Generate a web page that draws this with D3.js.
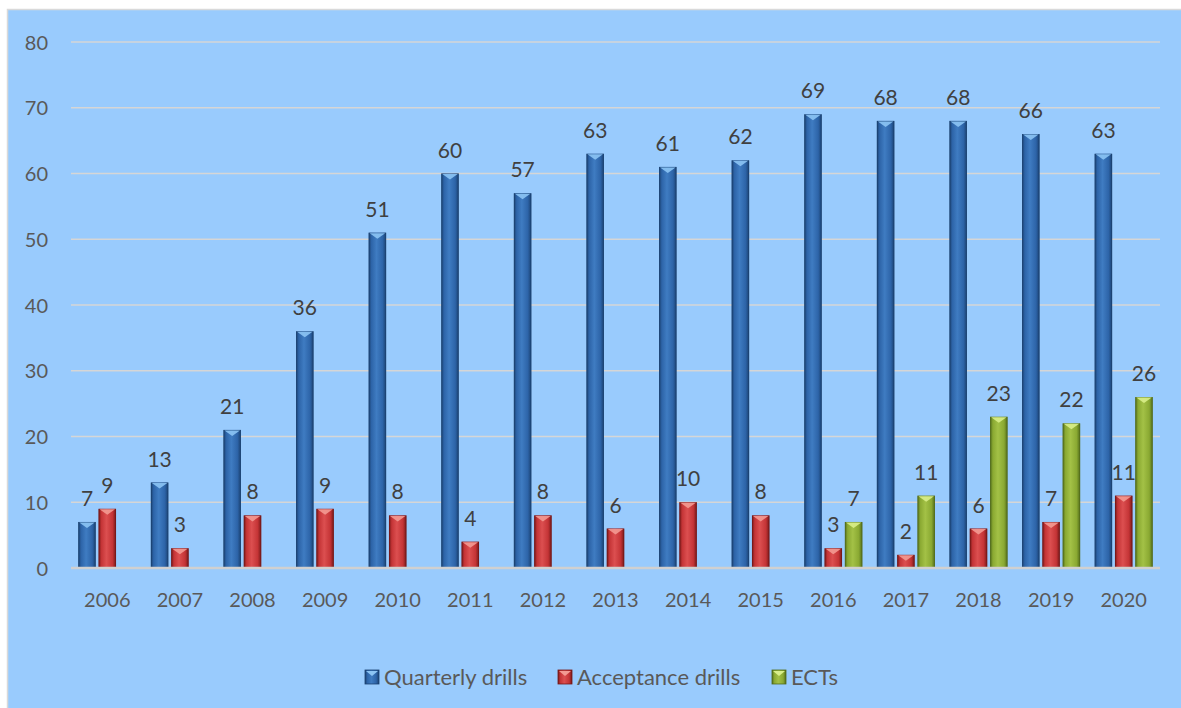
<!DOCTYPE html>
<html><head><meta charset="utf-8">
<script src="https://cdn.jsdelivr.net/npm/d3@7/dist/d3.min.js"></script>
<style>html,body{margin:0;padding:0;background:#fff;}svg{display:block;}</style>
</head><body>
<svg id="c" width="1181" height="708"></svg>
<script>
const years = ["2006","2007","2008","2009","2010","2011","2012","2013","2014","2015","2016","2017","2018","2019","2020"];
const seriesNames = ["Quarterly drills","Acceptance drills","ECTs"];
const quarterly = [7,13,21,36,51,60,57,63,61,62,69,68,68,66,63];
const acceptance = [9,3,8,9,8,4,8,6,10,8,3,2,6,7,11];
const ects = [null,null,null,null,null,null,null,null,null,null,7,11,23,22,26];
const yTicks = [0,10,20,30,40,50,60,70,80];

const seriesValues = [quarterly, acceptance, ects];
const palette = [
  {edge:"#1b4170", mid:"#2d64a8", light:"#3f7cc2", top:"#8cc4f4"},
  {edge:"#751818", mid:"#c43436", light:"#dc4f50", top:"#f39a92"},
  {edge:"#516b1a", mid:"#8aa932", light:"#a3c146", top:"#d9ee8a"}
];

const svg = d3.select("#c");
const W = 1181, H = 708;
svg.append("rect").attr("x",0).attr("y",0).attr("width",W).attr("height",H).attr("fill","#ffffff");
svg.append("rect").attr("x",7.5).attr("y",9.5).attr("width",W).attr("height",H).attr("fill","#99cbfd").attr("stroke","#d9d9d9").attr("stroke-width",1.5);

const defs = svg.append("defs");
palette.forEach((p,i)=>{
  const g = defs.append("linearGradient").attr("id","g"+i).attr("x1","0").attr("x2","1").attr("y1","0").attr("y2","0");
  g.append("stop").attr("offset","0").attr("stop-color",p.edge);
  g.append("stop").attr("offset","0.16").attr("stop-color",p.mid);
  g.append("stop").attr("offset","0.45").attr("stop-color",p.light);
  g.append("stop").attr("offset","0.8").attr("stop-color",p.mid);
  g.append("stop").attr("offset","1").attr("stop-color",p.edge);
});

const left = 71, right = 1160, top0 = 42, bottom0 = 568;
const y = d3.scaleLinear().domain([0,80]).range([bottom0, top0]);
const x0 = d3.scaleBand().domain(years).range([left,right]).paddingInner(0.2).paddingOuter(0.1);
const x1 = d3.scaleBand().domain(seriesNames).range([0,x0.bandwidth()]).paddingInner(0.14);

const font = "Lato, 'Open Sans', sans-serif";

// gridlines
svg.append("g").selectAll("line").data(yTicks.filter(d=>d>0)).join("line")
  .attr("x1",left).attr("x2",right).attr("y1",d=>y(d)).attr("y2",d=>y(d))
  .attr("stroke","#d6d6d6").attr("stroke-width",1.5);

// y axis labels
const yAxis = d3.axisLeft(y).tickValues(yTicks).tickSize(0).tickPadding(0);
const ya = svg.append("g").attr("transform","translate(48,0)").call(yAxis);
ya.select(".domain").remove();
ya.selectAll("text").attr("fill","#595959").style("font-family",font).style("font-size","20px").attr("dy","0.35em");

// bars
const bw = x1.bandwidth();
seriesNames.forEach((s,si)=>{
  const p = palette[si];
  const g = svg.append("g");
  const data = years.map((yr,i)=>({yr, v:seriesValues[si][i]})).filter(d=>d.v!=null);
  const bars = g.selectAll("g").data(data).join("g")
    .attr("transform",d=>`translate(${x0(d.yr)+x1(s)},0)`);
  bars.append("rect").attr("x",0).attr("width",bw)
    .attr("y",d=>y(d.v)).attr("height",d=>y(0)-y(d.v))
    .attr("fill",`url(#g${si})`);
  bars.append("rect").attr("x",0.5).attr("width",bw-1)
    .attr("y",d=>y(d.v)+0.5).attr("height",d=>Math.max(0,y(0)-y(d.v)-1))
    .attr("fill","none").attr("stroke",p.edge).attr("stroke-opacity",0.6).attr("stroke-width",1);
  bars.append("path")
    .attr("d",d=>{const t=y(d.v); const h=Math.min(6, (y(0)-t)/2);
      return `M1,${t+0.5} L${bw-1},${t+0.5} L${bw/2},${t+h} Z`;})
    .attr("fill",p.top).attr("opacity",0.9);
  // value labels
  g.selectAll("text").data(data).join("text")
    .attr("x",d=>x0(d.yr)+x1(s)+bw/2).attr("y",d=>y(d.v)-16)
    .attr("text-anchor","middle").attr("fill","#404040")
    .style("font-family",font).style("font-size","21px")
    .text(d=>d.v);
});

// baseline
svg.append("line").attr("x1",left).attr("x2",right).attr("y1",y(0)).attr("y2",y(0))
  .attr("stroke","#d0d0d0").attr("stroke-width",2.5);

// x axis
const xAxis = d3.axisBottom(x0).tickSize(0).tickPadding(0);
const xa = svg.append("g").attr("transform",`translate(0,${y(0)+32})`).call(xAxis);
xa.select(".domain").remove();
xa.selectAll("text").attr("fill","#595959").style("font-family",font).style("font-size","20px").attr("dy","0.35em");

// legend
const legendItems = [
  {name:seriesNames[0], sx:365, i:0},
  {name:seriesNames[1], sx:558, i:1},
  {name:seriesNames[2], sx:772, i:2}
];
const lg = svg.append("g");
const ly = 677;
legendItems.forEach(it=>{
  const p = palette[it.i];
  const gg = lg.append("g").attr("transform",`translate(${it.sx},${ly-7})`);
  gg.append("rect").attr("width",14).attr("height",14).attr("fill",`url(#g${it.i})`).attr("stroke",p.edge).attr("stroke-width",0.8);
  gg.append("path").attr("d","M1,1 L13,1 L7,6 Z").attr("fill",p.top);
  gg.append("text").attr("x",19).attr("y",7).attr("dy","0.35em").attr("fill","#595959")
    .style("font-family",font).style("font-size","22px").text(it.name);
});
</script>
</body></html>
